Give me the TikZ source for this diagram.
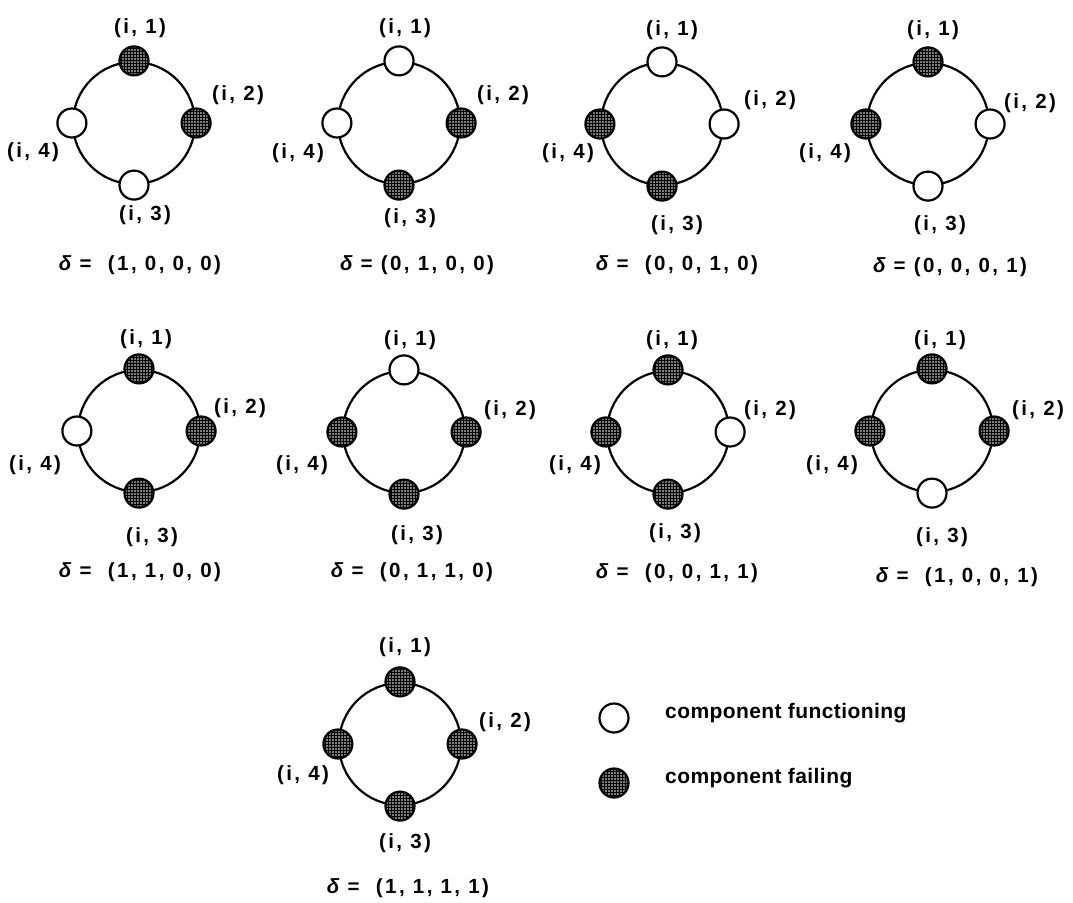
\documentclass[tikz,border=0pt]{standalone}
\usepackage{fontspec}
\setmainfont{Liberation Sans}
\newfontfamily\labfont[LetterSpace=12]{Liberation Sans Bold}
\newfontfamily\legfont[LetterSpace=2]{Liberation Sans Bold}
\newfontfamily\dltfont{Liberation Sans Bold Italic}
\usetikzlibrary{patterns}
% fine dot screen used for failed components
\pgfdeclarepatternformonly{coarsedots}{\pgfqpoint{-1pt}{-1pt}}{\pgfqpoint{1pt}{1pt}}{\pgfqpoint{3pt}{3pt}}%
  {\pgfpathcircle{\pgfqpoint{0pt}{0pt}}{0.9pt}\pgfusepath{fill}}
\newcommand{\dlt}{{\dltfont δ}}
\begin{document}
\begin{tikzpicture}[x=1pt,y=-1pt,
  ring/.style={circle, draw, line width=2.2pt, minimum size=122pt, inner sep=0pt},
  okc/.style={circle, draw, line width=2.2pt, fill=white, minimum size=29pt, inner sep=0pt},
  failc/.style={circle, draw, line width=2.2pt, minimum size=29pt, inner sep=0pt,
    preaction={fill=black}, pattern=coarsedots, pattern color=white},
  lbl/.style={font=\labfont\fontsize{20.5}{22}\selectfont, inner sep=0pt},
  leg/.style={font=\legfont\fontsize{21}{23}\selectfont, inner sep=0pt, anchor=west}]
\useasboundingbox (0,0) rectangle (1073,902);

% ---- delta = (1,0,0,0)
\node[ring] (r1) at (134,123) {};
\node[failc] (r1a) at (r1.north) {};
\node[failc] (r1b) at (r1.east) {};
\node[okc] (r1c) at (r1.south) {};
\node[okc] (r1d) at (r1.west) {};
\node[lbl] (l1a) at (140,28) {(i, 1)};
\node[lbl] (l1b) at (238,95) {(i, 2)};
\node[lbl] (l1c) at (145,215) {(i, 3)};
\node[lbl] (l1d) at (33,152) {(i, 4)};
\node[lbl] (v1) at (140,265) {\dlt{} = \ (1, 0, 0, 0)};

% ---- delta = (0,1,0,0)
\node[ring] (r2) at (399,123) {};
\node[okc] (r2a) at (r2.north) {};
\node[failc] (r2b) at (r2.east) {};
\node[failc] (r2c) at (r2.south) {};
\node[okc] (r2d) at (r2.west) {};
\node[lbl] (l2a) at (405,28) {(i, 1)};
\node[lbl] (l2b) at (503,95) {(i, 2)};
\node[lbl] (l2c) at (410,218) {(i, 3)};
\node[lbl] (l2d) at (298,153) {(i, 4)};
\node[lbl] (v2) at (417,265) {\dlt{} = (0, 1, 0, 0)};

% ---- delta = (0,0,1,0)
\node[ring] (r3) at (662,124) {};
\node[okc] (r3a) at (r3.north) {};
\node[okc] (r3b) at (r3.east) {};
\node[failc] (r3c) at (r3.south) {};
\node[failc] (r3d) at (r3.west) {};
\node[lbl] (l3a) at (672,30) {(i, 1)};
\node[lbl] (l3b) at (770,100) {(i, 2)};
\node[lbl] (l3c) at (677,225) {(i, 3)};
\node[lbl] (l3d) at (568,153) {(i, 4)};
\node[lbl] (v3) at (677,265) {\dlt{} = \ (0, 0, 1, 0)};

% ---- delta = (0,0,0,1)
\node[ring] (r4) at (928,124) {};
\node[failc] (r4a) at (r4.north) {};
\node[okc] (r4b) at (r4.east) {};
\node[okc] (r4c) at (r4.south) {};
\node[failc] (r4d) at (r4.west) {};
\node[lbl] (l4a) at (933,30) {(i, 1)};
\node[lbl] (l4b) at (1030,103) {(i, 2)};
\node[lbl] (l4c) at (940,225) {(i, 3)};
\node[lbl] (l4d) at (825,153) {(i, 4)};
\node[lbl] (v4) at (950,267) {\dlt{} = (0, 0, 0, 1)};

% ---- delta = (1,1,0,0)
\node[ring] (r5) at (139,431) {};
\node[failc] (r5a) at (r5.north) {};
\node[failc] (r5b) at (r5.east) {};
\node[failc] (r5c) at (r5.south) {};
\node[okc] (r5d) at (r5.west) {};
\node[lbl] (l5a) at (146,339) {(i, 1)};
\node[lbl] (l5b) at (240,408) {(i, 2)};
\node[lbl] (l5c) at (152,537) {(i, 3)};
\node[lbl] (l5d) at (35,465) {(i, 4)};
\node[lbl] (v5) at (140,572) {\dlt{} = \ (1, 1, 0, 0)};

% ---- delta = (0,1,1,0)
\node[ring] (r6) at (404,432) {};
\node[okc] (r6a) at (r6.north) {};
\node[failc] (r6b) at (r6.east) {};
\node[failc] (r6c) at (r6.south) {};
\node[failc] (r6d) at (r6.west) {};
\node[lbl] (l6a) at (410,340) {(i, 1)};
\node[lbl] (l6b) at (510,410) {(i, 2)};
\node[lbl] (l6c) at (417,535) {(i, 3)};
\node[lbl] (l6d) at (302,465) {(i, 4)};
\node[lbl] (v6) at (412,572) {\dlt{} = \ (0, 1, 1, 0)};

% ---- delta = (0,0,1,1)
\node[ring] (r7) at (668,432) {};
\node[failc] (r7a) at (r7.north) {};
\node[okc] (r7b) at (r7.east) {};
\node[failc] (r7c) at (r7.south) {};
\node[failc] (r7d) at (r7.west) {};
\node[lbl] (l7a) at (672,340) {(i, 1)};
\node[lbl] (l7b) at (770,410) {(i, 2)};
\node[lbl] (l7c) at (675,533) {(i, 3)};
\node[lbl] (l7d) at (575,465) {(i, 4)};
\node[lbl] (v7) at (677,573) {\dlt{} = \ (0, 0, 1, 1)};

% ---- delta = (1,0,0,1)
\node[ring] (r8) at (932,431) {};
\node[failc] (r8a) at (r8.north) {};
\node[failc] (r8b) at (r8.east) {};
\node[okc] (r8c) at (r8.south) {};
\node[failc] (r8d) at (r8.west) {};
\node[lbl] (l8a) at (940,340) {(i, 1)};
\node[lbl] (l8b) at (1038,410) {(i, 2)};
\node[lbl] (l8c) at (942,537) {(i, 3)};
\node[lbl] (l8d) at (832,465) {(i, 4)};
\node[lbl] (v8) at (957,577) {\dlt{} = \ (1, 0, 0, 1)};

% ---- delta = (1,1,1,1)
\node[ring] (r9) at (400,744) {};
\node[failc] (r9a) at (r9.north) {};
\node[failc] (r9b) at (r9.east) {};
\node[failc] (r9c) at (r9.south) {};
\node[failc] (r9d) at (r9.west) {};
\node[lbl] (l9a) at (405,647) {(i, 1)};
\node[lbl] (l9b) at (505,722) {(i, 2)};
\node[lbl] (l9c) at (405,843) {(i, 3)};
\node[lbl] (l9d) at (303,775) {(i, 4)};
\node[lbl] (v9) at (408,888) {\dlt{} = \ (1, 1, 1, 1)};

% ---- legend
\node[okc] (kok) at (614,718) {};
\node[leg] (tok) at (665,713) {component functioning};
\node[failc] (kfail) at (614,783) {};
\node[leg] (tfail) at (665,778) {component failing};
\end{tikzpicture}
\end{document}
